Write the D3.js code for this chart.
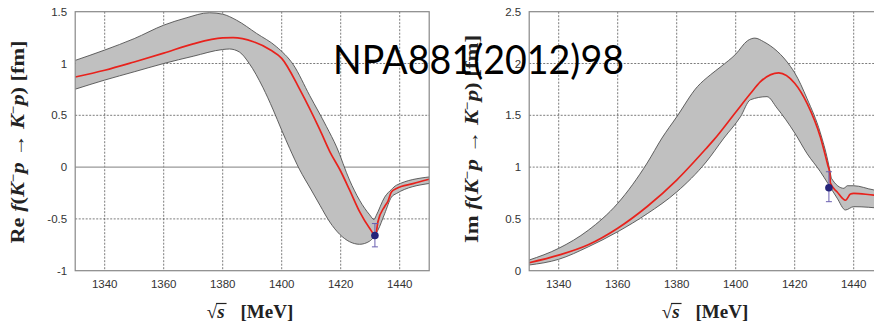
<!DOCTYPE html>
<html><head><meta charset="utf-8">
<script src="https://cdn.jsdelivr.net/npm/d3@7"></script>
<style>body{margin:0;background:#fff}svg{display:block}</style>
</head><body>
<script>
// ---- data ----
const xTicks = [1340,1360,1380,1400,1420,1440];
const reYTicks = [-1,-0.5,0,0.5,1,1.5];
const imYTicks = [0,0.5,1,1.5,2,2.5];

const reMidX = [1330,1340,1350,1360,1370,1380,1383.5,1390.4,1396.2,1400,1406.3,1413,1416.3,1420,1423,1426.4,1429.8,1431.8,1432.6,1434.9,1436,1437.2,1438.9,1444.5,1450];
const reMid  = [0.87,0.935,1.015,1.10,1.19,1.247,1.25,1.21,1.13,1.05,0.74,0.356,0.15,-0.04,-0.22,-0.43,-0.59,-0.66,-0.53,-0.38,-0.33,-0.24,-0.207,-0.16,-0.117];
const reUpX = [1330,1340,1350,1360,1367.6,1375.5,1380,1384.7,1391.5,1398.3,1403.9,1409.5,1415.2,1418.6,1423,1426.4,1429.8,1431.3,1432,1434.9,1437.2,1438.9,1450];
const reUp  = [1.03,1.13,1.24,1.37,1.44,1.49,1.476,1.418,1.29,1.16,0.99,0.69,0.39,0.195,-0.126,-0.32,-0.46,-0.506,-0.47,-0.29,-0.216,-0.175,-0.095];
const reLoX = [1330,1340,1350,1360,1370,1380,1382.3,1385.7,1389,1393.6,1397,1400,1402.7,1406,1410,1413,1416.3,1419.7,1423,1426.4,1429.8,1431.3,1432.6,1434.9,1437.2,1438.9,1450];
const reLo  = [0.752,0.84,0.92,1.0,1.07,1.135,1.14,1.11,1.0,0.77,0.56,0.356,0.18,-0.02,-0.22,-0.37,-0.53,-0.65,-0.72,-0.745,-0.715,-0.67,-0.61,-0.45,-0.29,-0.255,-0.158];
const rePoint = {x:1431.6, y:-0.66, lo:-0.77, hi:-0.545};

const imMidX = [1330,1340,1350,1360,1370,1380,1390,1392.5,1400,1405,1408.4,1414.6,1420,1424.2,1428.7,1431.2,1431.9,1432.1,1434.4,1437.2,1438.9,1440,1446.8,1450];
const imMid  = [0.077,0.15,0.25,0.41,0.62,0.875,1.18,1.26,1.53,1.71,1.825,1.91,1.81,1.615,1.29,1.02,0.94,0.845,0.76,0.68,0.74,0.747,0.73,0.725];
const imUpX = [1330,1340,1350,1360,1370,1375,1380,1387,1391.4,1395,1400,1404,1406.5,1409.5,1418.6,1420,1424.2,1428.7,1431.2,1431.9,1432.5,1436.7,1437.8,1440,1446.8,1450];
const imUp  = [0.103,0.216,0.39,0.65,1.04,1.28,1.485,1.776,1.89,1.97,2.09,2.22,2.245,2.21,1.97,1.91,1.66,1.33,1.065,0.97,0.89,0.795,0.82,0.82,0.78,0.77];
const imLoX = [1330,1340,1350,1360,1370,1380,1390,1396,1401.6,1405,1410.6,1414,1420,1424.2,1428.7,1431.2,1434.4,1437.2,1440,1450];
const imLo  = [0.055,0.11,0.23,0.376,0.55,0.76,1.05,1.28,1.485,1.65,1.68,1.57,1.33,1.13,0.956,0.845,0.70,0.586,0.618,0.60];
const imPoint = {x:1431.6, y:0.80, lo:0.666, hi:0.955};

const W = 874, H = 324;
const svg = d3.select("body").append("svg").attr("width", W).attr("height", H);
const sf = "'Liberation Serif', 'DejaVu Serif', serif";

function panel(opt){
  const x = d3.scaleLinear().domain([1330,1450]).range([opt.left, opt.left + 354]);
  const y = d3.scaleLinear().domain(opt.ydom).range([270.7, 11.7]);
  const g = svg.append("g");
  const cid = "clip" + opt.id;
  svg.append("clipPath").attr("id", cid).append("rect")
    .attr("x", x.range()[0]).attr("y", 11.7).attr("width", 354).attr("height", 259);
  // grid
  const grid = g.append("g");
  xTicks.forEach(t => grid.append("line").attr("x1", x(t)).attr("x2", x(t)).attr("y1", 11.7).attr("y2", 270.7)
    .attr("stroke", "#444").attr("stroke-width", 0.7).attr("stroke-dasharray", "2,1.5"));
  opt.yticks.slice(1, -1).forEach(t => grid.append("line").attr("x1", x.range()[0]).attr("x2", x.range()[1])
    .attr("y1", y(t)).attr("y2", y(t))
    .attr("stroke", t === 0 ? "#999" : "#444").attr("stroke-width", t === 0 ? 1.2 : 0.7)
    .attr("stroke-dasharray", t === 0 ? null : "2,1.5"));
  const pg = g.append("g").attr("clip-path", `url(#${cid})`);
  const line = d3.line().x(d => x(d[0])).y(d => y(d[1])).curve(d3.curveMonotoneX);
  const up = opt.upX.map((v, i) => [v, opt.up[i]]);
  const lo = opt.loX.map((v, i) => [v, opt.lo[i]]);
  const loRev = lo.slice().reverse();
  const bandPath = line(up) + "L" + line(loRev).slice(1) + "Z";
  pg.append("path").attr("d", bandPath).attr("fill", "#c0c0c0").attr("stroke", "none");
  pg.append("path").attr("d", line(up)).attr("fill", "none").attr("stroke", "#505050").attr("stroke-width", 0.9);
  pg.append("path").attr("d", line(lo)).attr("fill", "none").attr("stroke", "#505050").attr("stroke-width", 0.9);
  const mid = opt.midX.map((v, i) => [v, opt.mid[i]]);
  pg.append("path").attr("d", line(mid)).attr("fill", "none").attr("stroke", "#e8221c").attr("stroke-width", 1.7);
  // data point
  const p = opt.point;
  const eb = pg.append("g").attr("stroke", "#6a5fb0").attr("stroke-width", 1);
  eb.append("line").attr("x1", x(p.x)).attr("x2", x(p.x)).attr("y1", y(p.lo)).attr("y2", y(p.hi));
  [p.lo, p.hi].forEach(v => eb.append("line").attr("x1", x(p.x) - 3).attr("x2", x(p.x) + 3).attr("y1", y(v)).attr("y2", y(v)));
  pg.append("circle").attr("cx", x(p.x)).attr("cy", y(p.y)).attr("r", 3.8).attr("fill", "#25237a");
  // frame
  g.append("rect").attr("x", x.range()[0]).attr("y", 11.7).attr("width", 354).attr("height", 259)
    .attr("fill", "none").attr("stroke", "#888").attr("stroke-width", 1.2);
  // tick labels
  const tf = "'Liberation Sans', Arial, sans-serif";
  xTicks.forEach(t => g.append("text").attr("x", x(t)).attr("y", 288).attr("text-anchor", "middle")
    .attr("font-family", tf).attr("font-size", 11.5).attr("fill", "#333").text(t));
  opt.yticks.forEach(t => g.append("text").attr("x", x.range()[0] - 8).attr("y", y(t) + 4).attr("text-anchor", "end")
    .attr("font-family", tf).attr("font-size", 11.5).attr("fill", "#333").text(t));
  // y axis title
  const yt = svg.append("text").attr("transform", `translate(${opt.ytx},${opt.yty}) rotate(-90)`)
    .attr("text-anchor", "middle").attr("font-family", sf).attr("font-size", 18).attr("font-weight", "bold").attr("fill", "#222")
    .attr("textLength", opt.ylen).attr("lengthAdjust", "spacingAndGlyphs");
  yt.append("tspan").text(opt.ylab + " ");
  yt.append("tspan").attr("font-style", "italic").text("f");
  yt.append("tspan").text("(");
  yt.append("tspan").attr("font-style", "italic").text("K");
  yt.append("tspan").attr("font-size", 12).attr("dy", -7).text("−");
  yt.append("tspan").attr("font-style", "italic").attr("dy", 7).text("p");
  yt.append("tspan").text(" → ");
  yt.append("tspan").attr("font-style", "italic").text("K");
  yt.append("tspan").attr("font-size", 12).attr("dy", -7).text("−");
  yt.append("tspan").attr("font-style", "italic").attr("dy", 7).text("p");
  yt.append("tspan").text(") [fm]");
  // x axis title: √s [MeV]
  const xg = svg.append("g").attr("font-family", sf).attr("font-size", 19).attr("font-weight", "bold").attr("fill", "#222");
  const t1 = xg.append("text").attr("y", 318).text("√");
  const t2 = xg.append("text").attr("y", 318).attr("font-style", "italic").text("s");
  const t3 = xg.append("text").attr("y", 318).text("[MeV]");
  const w1 = t1.node().getComputedTextLength(), w2 = t2.node().getComputedTextLength(), w3 = t3.node().getComputedTextLength();
  const gap = 14;
  const total = w1 + w2 + 2 + gap + w3;
  const x0 = opt.xtx - total / 2;
  t1.attr("x", x0);
  t2.attr("x", x0 + w1);
  t3.attr("x", x0 + w1 + w2 + 2 + gap);
  xg.append("line").attr("x1", x0 + w1 - 1).attr("x2", x0 + w1 + w2 + 2).attr("y1", 303.5).attr("y2", 303.5)
    .attr("stroke", "#222").attr("stroke-width", 1.2);
}

panel({id: "re", left: 75.2, ydom: [-1, 1.5], yticks: reYTicks, midX: reMidX, mid: reMid, upX: reUpX, up: reUp,
  loX: reLoX, lo: reLo, point: rePoint, ylab: "Re", ytx: 24, yty: 142, ylen: 203, xtx: 250});
panel({id: "im", left: 529.2, ydom: [0, 2.5], yticks: imYTicks, midX: imMidX, mid: imMid, upX: imUpX, up: imUp,
  loX: imLoX, lo: imLo, point: imPoint, ylab: "Im", ytx: 478, yty: 139, ylen: 208, xtx: 705});

svg.append("text").attr("x", 333).attr("y", 74).attr("font-family", "Lato, 'Open Sans', sans-serif")
  .attr("font-size", 40).attr("fill", "#000").attr("textLength", 291).attr("lengthAdjust", "spacingAndGlyphs")
  .text("NPA881(2012)98");
</script>
</body></html>
